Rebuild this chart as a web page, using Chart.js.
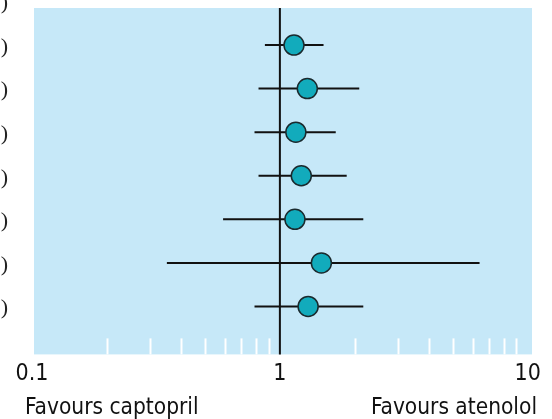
<!DOCTYPE html>
<html>
<head>
<meta charset="utf-8">
<script src="https://cdn.jsdelivr.net/npm/chart.js@4/dist/chart.umd.min.js"></script>
<style>
html,body{margin:0;padding:0;background:#fff;}
#wrap{position:relative;width:552px;height:419px;}
</style>
</head>
<body>
<div id="wrap"><canvas id="c" width="552" height="419"></canvas></div>
<script>
// Data (odds ratio and 95% CI per row, top to bottom)
const rows = [1, 2, 3, 4, 5, 6, 7];
const estimates = [1.14, 1.29, 1.16, 1.22, 1.15, 1.47, 1.30];
const lowerCI = [0.87, 0.82, 0.79, 0.82, 0.59, 0.35, 0.79];
const upperCI = [1.50, 2.09, 1.68, 1.86, 2.17, 6.39, 2.17];
const rowLabels = [")", ")", ")", ")", ")", ")", ")", ")"]; // row 0 (cropped header) + 7 rows
const tickLabels = ["0.1", "1", "10"];
const minorTicks = [0.2, 0.3, 0.4, 0.5, 0.6, 0.7, 0.8, 0.9, 2, 3, 4, 5, 6, 7, 8, 9];
const leftNote = "Favours captopril";
const rightNote = "Favours atenolol";

const FONT = "'DejaVu Sans Condensed', 'Liberation Sans Narrow', 'Liberation Sans', sans-serif";

const forestPlugin = {
  id: 'forest',
  beforeDatasetsDraw(chart) {
    const {ctx, chartArea: a, scales: {x, y}} = chart;
    ctx.save();
    ctx.fillStyle = '#C6E8F8';
    ctx.fillRect(a.left + 2, a.top, a.right - a.left - 2, a.bottom - a.top);
    ctx.strokeStyle = '#ffffff';
    ctx.lineWidth = 2;
    minorTicks.forEach(v => {
      const px = Math.round(x.getPixelForValue(v)) + 0.5;
      ctx.beginPath();
      ctx.moveTo(px, a.bottom);
      ctx.lineTo(px, a.bottom - 16);
      ctx.stroke();
    });
    ctx.strokeStyle = '#111';
    ctx.lineWidth = 2;
    const x1 = x.getPixelForValue(1);
    ctx.beginPath();
    ctx.moveTo(x1, a.top);
    ctx.lineTo(x1, a.bottom);
    ctx.stroke();
    ctx.lineWidth = 2;
    rows.forEach((r, i) => {
      const py = y.getPixelForValue(r);
      ctx.beginPath();
      ctx.moveTo(x.getPixelForValue(lowerCI[i]), py);
      ctx.lineTo(x.getPixelForValue(upperCI[i]), py);
      ctx.stroke();
    });
    ctx.restore();
  },
  afterDraw(chart) {
    const {ctx, scales: {x, y}} = chart;
    ctx.save();
    ctx.fillStyle = '#222';
    ctx.font = "22px 'Liberation Serif', serif";
    ctx.textAlign = 'right';
    ctx.textBaseline = 'middle';
    rowLabels.forEach((t, i) => {
      ctx.fillText(t, 8, y.getPixelForValue(i) + 2);
    });
    ctx.font = "22.5px " + FONT;
    ctx.fillStyle = '#111';
    ctx.textBaseline = 'alphabetic';
    ctx.textAlign = 'left';
    ctx.fillText(leftNote, 25, 414);
    ctx.textAlign = 'right';
    ctx.fillText(rightNote, 537, 414);
    ctx.restore();
  }
};

new Chart(document.getElementById('c'), {
  type: 'scatter',
  data: {
    datasets: [{
      data: rows.map((r, i) => ({x: estimates[i], y: r})),
      backgroundColor: '#12ABBC',
      borderColor: '#1a2a2e',
      borderWidth: 1.5,
      pointRadius: 10,
      pointHoverRadius: 10
    }]
  },
  options: {
    responsive: false,
    animation: false,
    events: [],
    layout: {autoPadding: false, padding: {left: 32, right: 20, top: 8, bottom: 25}},
    plugins: {legend: {display: false}, tooltip: {enabled: false}},
    scales: {
      x: {
        type: 'logarithmic',
        min: 0.1,
        max: 10.4,
        afterBuildTicks(scale) {
          scale.ticks = tickLabels.map(t => ({value: parseFloat(t)}));
        },
        grid: {display: false, drawTicks: false},
        border: {display: false},
        ticks: {
          autoSkip: false,
          maxRotation: 0,
          padding: 6,
          color: '#111',
          font: {family: FONT, size: 23},
          callback: (v) => tickLabels.find(t => parseFloat(t) === v) || ''
        }
      },
      y: {
        type: 'linear',
        min: 0.15,
        max: 8.1,
        reverse: true,
        display: false
      }
    }
  },
  plugins: [forestPlugin]
});
</script>
</body>
</html>
